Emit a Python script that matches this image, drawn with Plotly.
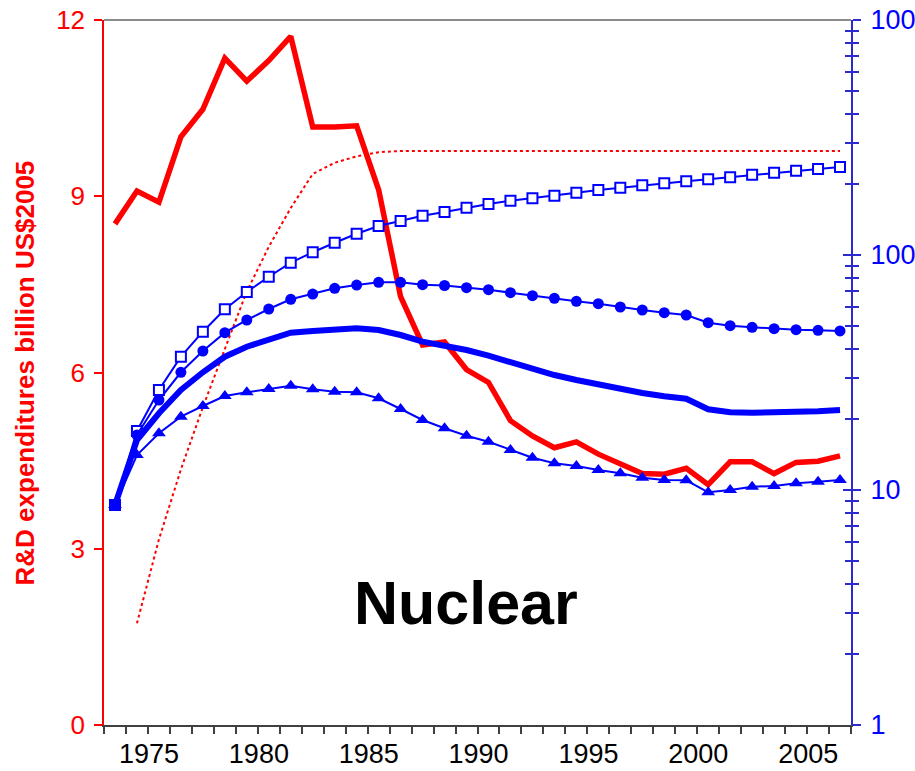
import plotly.graph_objects as go

# ---------------- data ----------------
years = list(range(1973, 2007))

# Annual R&D expenditure (left axis, billion US$2005)
rd_spending = [8.53, 9.09, 8.90, 10.01, 10.48, 11.35, 10.96, 11.31, 11.72, 10.18,
               10.18, 10.20, 9.11, 7.29, 6.47, 6.52, 6.05, 5.83, 5.18, 4.92,
               4.72, 4.82, 4.61, 4.44, 4.28, 4.27, 4.37, 4.09, 4.48, 4.48,
               4.28, 4.47, 4.49, 4.58]

# Red dotted curve (left axis), starting 1974
dotted_years = list(range(1974, 2007))
rd_dotted = [1.73, 3.16, 4.35, 5.41, 6.40, 7.38, 8.14, 8.80, 9.38, 9.57,
             9.68, 9.75, 9.77, 9.77, 9.77, 9.77, 9.77, 9.77, 9.77, 9.77,
             9.77, 9.77, 9.77, 9.77, 9.77, 9.77, 9.77, 9.77, 9.77, 9.77,
             9.77, 9.77, 9.77]

# Blue series (right log axis)
stock_upper = [8.64, 17.83, 26.65, 36.92, 47.17, 58.74, 69.58, 80.83, 92.74, 102.7,
               112.8, 123.2, 132.9, 139.5, 147.0, 152.4, 159.0, 164.8, 170.2, 174.3,
               178.8, 184.1, 189.1, 193.4, 198.0, 201.9, 205.9, 210.0, 214.1, 219.7,
               224.0, 228.5, 232.3, 236.9]
stock_mid_high = [8.64, 17.14, 24.15, 31.69, 39.04, 46.72, 52.90, 58.92, 64.78, 68.23,
                  72.16, 74.52, 76.52, 76.52, 74.75, 74.17, 72.59, 71.17, 69.13, 67.12,
                  65.43, 63.53, 62.06, 60.08, 58.34, 56.82, 55.55, 51.51, 50.02, 49.25,
                  48.58, 48.11, 47.83, 47.50]
stock_central = [8.64, 16.32, 21.20, 26.65, 31.69, 36.92, 40.72, 43.78, 46.72, 47.50,
                 48.30, 48.77, 47.97, 45.66, 42.77, 41.20, 39.42, 37.28, 35.05, 32.72,
                 30.85, 29.38, 28.06, 26.98, 25.87, 25.04, 24.46, 22.05, 21.41, 21.33,
                 21.33, 21.47, 21.62, 21.90]
stock_low = [8.64, 14.09, 17.43, 20.51, 22.77, 25.12, 26.05, 26.90, 27.79, 26.82,
             26.20, 26.05, 24.56, 22.12, 19.86, 18.31, 17.02, 16.05, 14.80, 13.72,
             12.99, 12.65, 12.17, 11.78, 11.28, 11.03, 11.00, 9.78, 10.00, 10.33,
             10.40, 10.68, 10.85, 11.03]

label_years = [1975, 1980, 1985, 1990, 1995, 2000, 2005]
left_ticks = [0, 3, 6, 9, 12]
right_ticks = [1, 10, 100, 1000]
right_ticktext = ["1", "10", "100", "100"]

# ---------------- figure ----------------
RED = "#ff0000"
BLUE = "#0000ff"
AXBLUE = "#2a2ad0"
FONT = "Liberation Sans, Arial, sans-serif"

fig = go.Figure()

fig.add_trace(go.Scatter(x=dotted_years, y=rd_dotted, mode="lines",
                         line=dict(color=RED, width=2, dash="dot"), yaxis="y"))
fig.add_trace(go.Scatter(x=years, y=rd_spending, mode="lines",
                         line=dict(color=RED, width=5.5), yaxis="y"))

fig.add_trace(go.Scatter(x=years, y=stock_central, mode="lines",
                         line=dict(color=BLUE, width=6), yaxis="y2"))
fig.add_trace(go.Scatter(x=years, y=stock_upper, mode="lines+markers",
                         line=dict(color=BLUE, width=2),
                         marker=dict(symbol="square", size=10, color="white",
                                     line=dict(color=BLUE, width=2)),
                         yaxis="y2"))
fig.add_trace(go.Scatter(x=years, y=stock_mid_high, mode="lines+markers",
                         line=dict(color=BLUE, width=2),
                         marker=dict(symbol="circle", size=11, color=BLUE),
                         yaxis="y2"))
fig.add_trace(go.Scatter(x=years, y=stock_low, mode="lines+markers",
                         line=dict(color=BLUE, width=2),
                         marker=dict(symbol="triangle-up", size=12, color=BLUE),
                         yaxis="y2"))
fig.add_trace(go.Scatter(x=years[:1], y=stock_central[:1], mode="markers",
                         marker=dict(symbol="square", size=11, color=BLUE),
                         yaxis="y2"))

minor_log = [m * d for d in (1, 10, 100) for m in range(2, 10)]

fig.update_layout(
    width=915, height=771,
    paper_bgcolor="white", plot_bgcolor="white",
    showlegend=False,
    margin=dict(l=104, r=64, t=20, b=46, autoexpand=False),
    font=dict(family=FONT),
    xaxis=dict(
        range=[1972.5, 2006.5], showgrid=False, zeroline=False, automargin=False,
        showline=True, linecolor="#404040", linewidth=1.5,
        tickmode="array", tickvals=[y - 0.45 for y in label_years],
        ticktext=[str(y) for y in label_years],
        ticks="", tickfont=dict(size=27, color="black"),
        ticklabelstandoff=4,
        minor=dict(ticks="outside", tick0=1972.5, dtick=1, ticklen=7,
                   tickcolor="#404040", tickwidth=1.5, showgrid=False),
    ),
    yaxis=dict(
        range=[0, 12], tickmode="array", tickvals=left_ticks, automargin=False,
        showgrid=False, zeroline=False,
        showline=True, linecolor=RED, linewidth=1.5,
        ticks="outside", ticklen=8, tickcolor=RED, tickwidth=1.5,
        tickfont=dict(size=26, color=RED), ticklabelstandoff=4,
    ),
    yaxis2=dict(
        type="log", range=[0, 3], overlaying="y", side="right", anchor="x",
        automargin=False,
        tickmode="array", tickvals=right_ticks, ticktext=right_ticktext,
        showgrid=False, zeroline=False,
        showline=True, linecolor=AXBLUE, linewidth=2,
        ticks="outside", ticklen=8, tickcolor=AXBLUE, tickwidth=2,
        tickfont=dict(size=27, color=BLUE), ticklabelstandoff=4,
        minor=dict(tickmode="array", tickvals=minor_log, ticks="outside",
                   ticklen=6, tickcolor=AXBLUE, tickwidth=1.5, showgrid=False),
    ),
    yaxis3=dict(
        type="log", range=[0, 3], overlaying="y", side="right", anchor="x",
        automargin=False,
        tickmode="array", tickvals=right_ticks, showticklabels=False,
        showgrid=False, zeroline=False, showline=False,
        ticks="inside", ticklen=8, tickcolor=AXBLUE, tickwidth=2,
        minor=dict(tickmode="array", tickvals=minor_log, ticks="inside",
                   ticklen=6, tickcolor=AXBLUE, tickwidth=1.5, showgrid=False),
    ),
)

# invisible trace so yaxis3 is rendered
fig.add_trace(go.Scatter(x=[years[0]], y=[stock_central[0]], mode="markers",
                         marker=dict(size=1, opacity=0), yaxis="y3",
                         hoverinfo="skip"))

# top border
fig.add_shape(type="line", xref="paper", yref="paper", x0=0, x1=1, y0=1, y1=1,
              line=dict(color="#8c8c8c", width=2))

fig.add_annotation(text="<b>R&D expenditures billion US$2005</b>",
                   xref="paper", yref="paper", x=-0.1058, y=0.5,
                   xanchor="center", yanchor="middle", textangle=-90,
                   showarrow=False, font=dict(size=26, color=RED, family=FONT))

fig.add_annotation(text="<b>Nuclear</b>", xref="paper", yref="paper",
                   x=(466 - 104) / 747, y=(725 - 603) / 705,
                   xanchor="center", yanchor="middle", showarrow=False,
                   font=dict(size=61, color="black", family=FONT))

fig.write_html("out.html",
               config={"displayModeBar": False},
               post_script="document.body.style.margin='0';"
                           "document.body.style.overflow='hidden';")
